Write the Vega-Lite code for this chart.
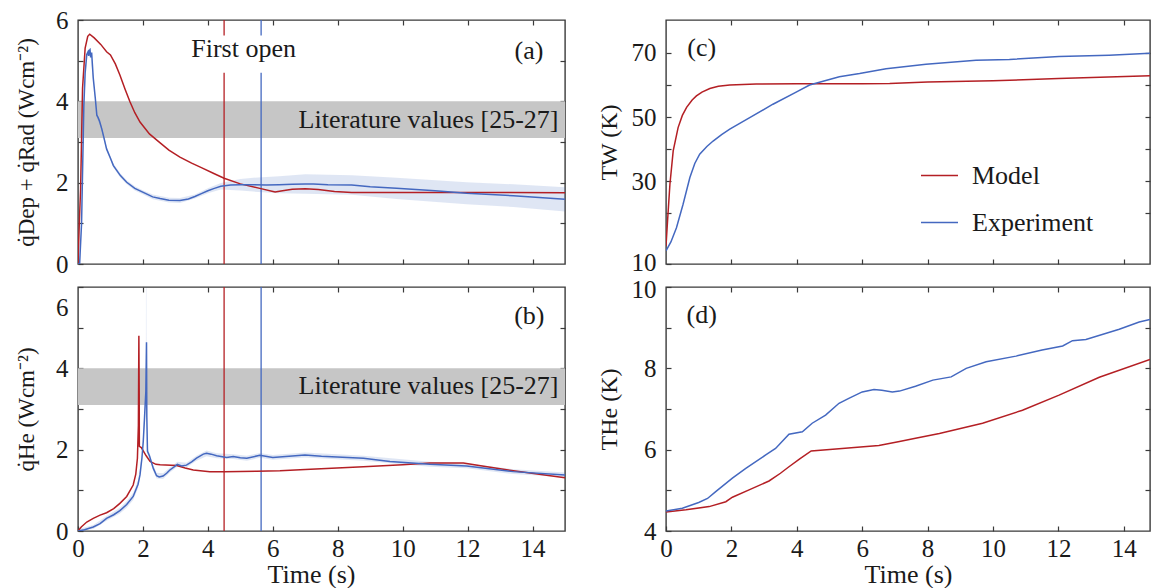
{
  "$schema": "https://vega.github.io/schema/vega-lite/v6.json",
  "padding": {"left": 14, "top": 7, "right": 0, "bottom": 0},
  "background": "white",
  "config": {
    "font": "Liberation Serif",
    "view": {"stroke": "#3a3a3a", "strokeWidth": 1.4},
    "axis": {"domain": false, "grid": false, "tickColor": "#3a3a3a", "tickSize": -5, "tickWidth": 1.2,
      "labelFont": "Liberation Serif", "labelFontSize": 25, "labelColor": "#1a1a1a", "labelPadding": 15,
      "labelFlush": false, "labelOverlap": false,
      "titleFont": "Liberation Serif", "titleFontSize": 26, "titleFontWeight": "normal", "titleColor": "#1a1a1a"},
    "axisX": {"labelPadding": 10},
    "text": {"font": "Liberation Serif", "fontSize": 26, "color": "#1a1a1a"}
  },
  "columns": 2,
  "spacing": {"row": 23, "column": 101},
  "bounds": "flush",
  "resolve": {"scale": {"color": "independent"}, "legend": {"color": "independent"}},
  "datasets": {
    "lit": [{"t0": 0, "t1": 15, "lo": 3.1, "hi": 4.0}],
    "open": [{"t": 4.5, "s": "Model"}, {"t": 5.64, "s": "Experiment"}],
    "a": [
      {"t":0,"v":0,"s":"Model"},{"t":0.04,"v":1.0,"s":"Model"},{"t":0.08,"v":1.84,"s":"Model"},{"t":0.14,"v":4.32,"s":"Model"},{"t":0.22,"v":5.31,"s":"Model"},{"t":0.3,"v":5.6,"s":"Model"},{"t":0.36,"v":5.65,"s":"Model"},{"t":0.5,"v":5.56,"s":"Model"},{"t":0.7,"v":5.4,"s":"Model"},{"t":0.88,"v":5.22,"s":"Model"},{"t":1.0,"v":5.14,"s":"Model"},{"t":1.15,"v":4.92,"s":"Model"},{"t":1.29,"v":4.65,"s":"Model"},{"t":1.45,"v":4.3,"s":"Model"},{"t":1.6,"v":3.99,"s":"Model"},{"t":1.75,"v":3.72,"s":"Model"},{"t":1.91,"v":3.49,"s":"Model"},{"t":2.2,"v":3.2,"s":"Model"},{"t":2.53,"v":2.98,"s":"Model"},{"t":2.8,"v":2.8,"s":"Model"},{"t":3.14,"v":2.63,"s":"Model"},{"t":3.5,"v":2.48,"s":"Model"},{"t":3.8,"v":2.37,"s":"Model"},{"t":4.2,"v":2.22,"s":"Model"},{"t":4.5,"v":2.11,"s":"Model"},{"t":5.0,"v":1.97,"s":"Model"},{"t":5.6,"v":1.86,"s":"Model"},{"t":6.07,"v":1.77,"s":"Model"},{"t":6.3,"v":1.8,"s":"Model"},{"t":6.6,"v":1.84,"s":"Model"},{"t":7.0,"v":1.85,"s":"Model"},{"t":7.4,"v":1.83,"s":"Model"},{"t":7.9,"v":1.78,"s":"Model"},{"t":8.43,"v":1.76,"s":"Model"},{"t":10,"v":1.76,"s":"Model"},{"t":12,"v":1.76,"s":"Model"},{"t":15,"v":1.75,"s":"Model"},
      {"t":0,"v":0,"s":"Experiment"},{"t":0.05,"v":0,"s":"Experiment"},{"t":0.11,"v":1.0,"s":"Experiment"},{"t":0.18,"v":3.9,"s":"Experiment"},{"t":0.22,"v":4.7,"s":"Experiment"},{"t":0.27,"v":5.15,"s":"Experiment"},{"t":0.31,"v":5.22,"s":"Experiment"},{"t":0.33,"v":5.12,"s":"Experiment"},{"t":0.35,"v":5.25,"s":"Experiment"},{"t":0.37,"v":5.27,"s":"Experiment"},{"t":0.39,"v":5.08,"s":"Experiment"},{"t":0.42,"v":5.2,"s":"Experiment"},{"t":0.47,"v":4.57,"s":"Experiment"},{"t":0.53,"v":4.1,"s":"Experiment"},{"t":0.58,"v":3.66,"s":"Experiment"},{"t":0.62,"v":3.6,"s":"Experiment"},{"t":0.66,"v":3.52,"s":"Experiment"},{"t":0.73,"v":3.33,"s":"Experiment"},{"t":0.8,"v":3.1,"s":"Experiment"},{"t":0.88,"v":2.83,"s":"Experiment"},{"t":1.0,"v":2.6,"s":"Experiment"},{"t":1.09,"v":2.42,"s":"Experiment"},{"t":1.3,"v":2.18,"s":"Experiment"},{"t":1.5,"v":2.01,"s":"Experiment"},{"t":1.75,"v":1.86,"s":"Experiment"},{"t":2.01,"v":1.76,"s":"Experiment"},{"t":2.3,"v":1.65,"s":"Experiment"},{"t":2.53,"v":1.61,"s":"Experiment"},{"t":2.8,"v":1.57,"s":"Experiment"},{"t":3.14,"v":1.56,"s":"Experiment"},{"t":3.4,"v":1.6,"s":"Experiment"},{"t":3.6,"v":1.66,"s":"Experiment"},{"t":3.8,"v":1.73,"s":"Experiment"},{"t":4.0,"v":1.8,"s":"Experiment"},{"t":4.2,"v":1.86,"s":"Experiment"},{"t":4.4,"v":1.91,"s":"Experiment"},{"t":4.7,"v":1.94,"s":"Experiment"},{"t":5.0,"v":1.95,"s":"Experiment"},{"t":5.4,"v":1.95,"s":"Experiment"},{"t":5.8,"v":1.94,"s":"Experiment"},{"t":6.2,"v":1.95,"s":"Experiment"},{"t":6.6,"v":1.96,"s":"Experiment"},{"t":7.0,"v":1.97,"s":"Experiment"},{"t":7.25,"v":1.97,"s":"Experiment"},{"t":7.7,"v":1.95,"s":"Experiment"},{"t":8.43,"v":1.94,"s":"Experiment"},{"t":9.0,"v":1.9,"s":"Experiment"},{"t":9.81,"v":1.86,"s":"Experiment"},{"t":11,"v":1.8,"s":"Experiment"},{"t":11.97,"v":1.74,"s":"Experiment"},{"t":13.41,"v":1.68,"s":"Experiment"},{"t":15,"v":1.59,"s":"Experiment"}
    ],
    "aband": [
      {"t":0.05,"lo":0,"hi":0.05},{"t":0.11,"lo":0.95,"hi":1.05},{"t":0.18,"lo":3.85,"hi":3.95},{"t":0.27,"lo":5.1,"hi":5.2},{"t":0.37,"lo":5.22,"hi":5.32},{"t":0.47,"lo":4.52,"hi":4.62},{"t":0.58,"lo":3.61,"hi":3.71},{"t":0.73,"lo":3.28,"hi":3.38},{"t":0.88,"lo":2.78,"hi":2.88},{"t":1.09,"lo":2.37,"hi":2.47},{"t":1.3,"lo":2.13,"hi":2.23},{"t":1.5,"lo":1.96,"hi":2.06},{"t":1.75,"lo":1.81,"hi":1.91},{"t":2.01,"lo":1.71,"hi":1.81},{"t":2.3,"lo":1.59,"hi":1.71},{"t":2.8,"lo":1.51,"hi":1.63},{"t":3.14,"lo":1.5,"hi":1.62},{"t":3.6,"lo":1.61,"hi":1.71},{"t":4.0,"lo":1.74,"hi":1.86},{"t":4.4,"lo":1.83,"hi":1.99},{"t":5.0,"lo":1.81,"hi":2.09},{"t":5.4,"lo":1.78,"hi":2.12},{"t":6.2,"lo":1.74,"hi":2.16},{"t":7.0,"lo":1.73,"hi":2.21},{"t":8.43,"lo":1.7,"hi":2.18},{"t":9.81,"lo":1.6,"hi":2.12},{"t":11.97,"lo":1.47,"hi":2.01},{"t":13.41,"lo":1.4,"hi":1.96},{"t":15,"lo":1.29,"hi":1.89}
    ],
    "b": [
      {"t":0,"v":0,"s":"Model"},{"t":0.1,"v":0.1,"s":"Model"},{"t":0.27,"v":0.22,"s":"Model"},{"t":0.47,"v":0.31,"s":"Model"},{"t":0.68,"v":0.39,"s":"Model"},{"t":0.88,"v":0.45,"s":"Model"},{"t":1.1,"v":0.55,"s":"Model"},{"t":1.29,"v":0.68,"s":"Model"},{"t":1.5,"v":0.85,"s":"Model"},{"t":1.7,"v":1.13,"s":"Model"},{"t":1.78,"v":1.4,"s":"Model"},{"t":1.83,"v":1.79,"s":"Model"},{"t":1.86,"v":2.6,"s":"Model"},{"t":1.875,"v":4.8,"s":"Model"},{"t":1.885,"v":3.4,"s":"Model"},{"t":1.89,"v":2.08,"s":"Model"},{"t":1.95,"v":2.05,"s":"Model"},{"t":2.1,"v":1.85,"s":"Model"},{"t":2.22,"v":1.71,"s":"Model"},{"t":2.4,"v":1.64,"s":"Model"},{"t":2.53,"v":1.63,"s":"Model"},{"t":3.04,"v":1.61,"s":"Model"},{"t":3.3,"v":1.55,"s":"Model"},{"t":3.55,"v":1.5,"s":"Model"},{"t":4.06,"v":1.46,"s":"Model"},{"t":4.5,"v":1.46,"s":"Model"},{"t":5.5,"v":1.47,"s":"Model"},{"t":6.22,"v":1.48,"s":"Model"},{"t":7,"v":1.51,"s":"Model"},{"t":8.79,"v":1.58,"s":"Model"},{"t":10,"v":1.63,"s":"Model"},{"t":10.84,"v":1.67,"s":"Model"},{"t":11.87,"v":1.67,"s":"Model"},{"t":12.5,"v":1.59,"s":"Model"},{"t":13.41,"v":1.48,"s":"Model"},{"t":15,"v":1.31,"s":"Model"},
      {"t":0,"v":0,"s":"Experiment"},{"t":0.2,"v":0.03,"s":"Experiment"},{"t":0.47,"v":0.1,"s":"Experiment"},{"t":0.68,"v":0.18,"s":"Experiment"},{"t":0.88,"v":0.31,"s":"Experiment"},{"t":1.1,"v":0.4,"s":"Experiment"},{"t":1.29,"v":0.5,"s":"Experiment"},{"t":1.5,"v":0.65,"s":"Experiment"},{"t":1.7,"v":0.85,"s":"Experiment"},{"t":1.85,"v":1.15,"s":"Experiment"},{"t":1.91,"v":1.38,"s":"Experiment"},{"t":1.97,"v":1.8,"s":"Experiment"},{"t":2.01,"v":2.2,"s":"Experiment"},{"t":2.05,"v":2.8,"s":"Experiment"},{"t":2.09,"v":3.44,"s":"Experiment"},{"t":2.11,"v":4.64,"s":"Experiment"},{"t":2.12,"v":2.8,"s":"Experiment"},{"t":2.14,"v":1.96,"s":"Experiment"},{"t":2.2,"v":1.85,"s":"Experiment"},{"t":2.32,"v":1.54,"s":"Experiment"},{"t":2.42,"v":1.36,"s":"Experiment"},{"t":2.5,"v":1.33,"s":"Experiment"},{"t":2.62,"v":1.35,"s":"Experiment"},{"t":2.73,"v":1.42,"s":"Experiment"},{"t":2.83,"v":1.5,"s":"Experiment"},{"t":2.95,"v":1.57,"s":"Experiment"},{"t":3.06,"v":1.64,"s":"Experiment"},{"t":3.19,"v":1.6,"s":"Experiment"},{"t":3.34,"v":1.62,"s":"Experiment"},{"t":3.5,"v":1.7,"s":"Experiment"},{"t":3.65,"v":1.79,"s":"Experiment"},{"t":3.86,"v":1.89,"s":"Experiment"},{"t":3.96,"v":1.91,"s":"Experiment"},{"t":4.1,"v":1.89,"s":"Experiment"},{"t":4.27,"v":1.85,"s":"Experiment"},{"t":4.58,"v":1.81,"s":"Experiment"},{"t":4.78,"v":1.83,"s":"Experiment"},{"t":5.0,"v":1.8,"s":"Experiment"},{"t":5.2,"v":1.79,"s":"Experiment"},{"t":5.6,"v":1.86,"s":"Experiment"},{"t":6.0,"v":1.81,"s":"Experiment"},{"t":6.5,"v":1.84,"s":"Experiment"},{"t":6.99,"v":1.87,"s":"Experiment"},{"t":7.5,"v":1.84,"s":"Experiment"},{"t":8.79,"v":1.79,"s":"Experiment"},{"t":9.61,"v":1.71,"s":"Experiment"},{"t":10.84,"v":1.64,"s":"Experiment"},{"t":11.97,"v":1.6,"s":"Experiment"},{"t":13.41,"v":1.46,"s":"Experiment"},{"t":15,"v":1.38,"s":"Experiment"}
    ],
    "bband": [
      {"t":0,"lo":0,"hi":0.04},{"t":0.47,"lo":0.05,"hi":0.15},{"t":0.88,"lo":0.25,"hi":0.37},{"t":1.29,"lo":0.43,"hi":0.57},{"t":1.5,"lo":0.57,"hi":0.73},{"t":1.7,"lo":0.76,"hi":0.94},{"t":1.85,"lo":1.05,"hi":1.25},{"t":1.97,"lo":1.7,"hi":1.9},{"t":2.05,"lo":2.65,"hi":2.95},{"t":2.09,"lo":3.3,"hi":3.6},{"t":2.095,"lo":3.9,"hi":7},{"t":2.105,"lo":4.3,"hi":7},{"t":2.11,"lo":4.5,"hi":4.8},{"t":2.12,"lo":2.65,"hi":2.95},{"t":2.14,"lo":1.88,"hi":2.04},{"t":2.2,"lo":1.78,"hi":1.92},{"t":2.32,"lo":1.47,"hi":1.61},{"t":2.42,"lo":1.29,"hi":1.43},{"t":2.62,"lo":1.28,"hi":1.42},{"t":2.83,"lo":1.44,"hi":1.56},{"t":3.06,"lo":1.58,"hi":1.7},{"t":3.34,"lo":1.56,"hi":1.68},{"t":3.65,"lo":1.73,"hi":1.85},{"t":3.96,"lo":1.84,"hi":1.98},{"t":4.27,"lo":1.79,"hi":1.91},{"t":4.78,"lo":1.77,"hi":1.89},{"t":5.2,"lo":1.73,"hi":1.85},{"t":5.6,"lo":1.8,"hi":1.92},{"t":6.0,"lo":1.75,"hi":1.87},{"t":6.99,"lo":1.81,"hi":1.93},{"t":8.79,"lo":1.73,"hi":1.85},{"t":10.84,"lo":1.58,"hi":1.7},{"t":11.97,"lo":1.54,"hi":1.66},{"t":13.41,"lo":1.4,"hi":1.52},{"t":15,"lo":1.32,"hi":1.44}
    ],
    "c": [
      {"t":0,"v":9.7,"s":"Model"},{"t":0.05,"v":18,"s":"Model"},{"t":0.12,"v":29,"s":"Model"},{"t":0.22,"v":39.4,"s":"Model"},{"t":0.37,"v":46.7,"s":"Model"},{"t":0.5,"v":50.5,"s":"Model"},{"t":0.63,"v":53,"s":"Model"},{"t":0.8,"v":55.3,"s":"Model"},{"t":0.93,"v":56.6,"s":"Model"},{"t":1.1,"v":57.8,"s":"Model"},{"t":1.34,"v":58.9,"s":"Model"},{"t":1.6,"v":59.6,"s":"Model"},{"t":1.95,"v":60.0,"s":"Model"},{"t":2.76,"v":60.3,"s":"Model"},{"t":4,"v":60.4,"s":"Model"},{"t":6,"v":60.4,"s":"Model"},{"t":6.84,"v":60.5,"s":"Model"},{"t":8,"v":60.9,"s":"Model"},{"t":10,"v":61.3,"s":"Model"},{"t":12,"v":62.0,"s":"Model"},{"t":14.8,"v":62.9,"s":"Model"},
      {"t":0,"v":8.2,"s":"Experiment"},{"t":0.15,"v":11,"s":"Experiment"},{"t":0.32,"v":15.4,"s":"Experiment"},{"t":0.52,"v":22.7,"s":"Experiment"},{"t":0.73,"v":31.1,"s":"Experiment"},{"t":0.88,"v":35.5,"s":"Experiment"},{"t":1.03,"v":38.4,"s":"Experiment"},{"t":1.25,"v":40.8,"s":"Experiment"},{"t":1.44,"v":42.5,"s":"Experiment"},{"t":1.7,"v":44.5,"s":"Experiment"},{"t":1.95,"v":46.2,"s":"Experiment"},{"t":2.56,"v":49.8,"s":"Experiment"},{"t":3.27,"v":54,"s":"Experiment"},{"t":3.98,"v":57.8,"s":"Experiment"},{"t":4.39,"v":60.0,"s":"Experiment"},{"t":5.3,"v":62.6,"s":"Experiment"},{"t":5.92,"v":63.6,"s":"Experiment"},{"t":6.73,"v":65.1,"s":"Experiment"},{"t":7.95,"v":66.5,"s":"Experiment"},{"t":9.48,"v":67.7,"s":"Experiment"},{"t":10.5,"v":68.0,"s":"Experiment"},{"t":12.02,"v":68.9,"s":"Experiment"},{"t":13.55,"v":69.3,"s":"Experiment"},{"t":14.8,"v":69.9,"s":"Experiment"}
    ],
    "d": [
      {"t":0,"v":4.47,"s":"Model"},{"t":0.61,"v":4.52,"s":"Model"},{"t":1.32,"v":4.6,"s":"Model"},{"t":1.83,"v":4.72,"s":"Model"},{"t":2.03,"v":4.83,"s":"Model"},{"t":2.54,"v":5.01,"s":"Model"},{"t":3.15,"v":5.23,"s":"Model"},{"t":3.5,"v":5.42,"s":"Model"},{"t":3.76,"v":5.58,"s":"Model"},{"t":4.1,"v":5.78,"s":"Model"},{"t":4.44,"v":5.97,"s":"Model"},{"t":5.29,"v":6.02,"s":"Model"},{"t":6.51,"v":6.1,"s":"Model"},{"t":7.14,"v":6.2,"s":"Model"},{"t":7.63,"v":6.28,"s":"Model"},{"t":8.36,"v":6.4,"s":"Model"},{"t":9.68,"v":6.65,"s":"Model"},{"t":10.9,"v":6.97,"s":"Model"},{"t":12.02,"v":7.34,"s":"Model"},{"t":13.25,"v":7.78,"s":"Model"},{"t":14.8,"v":8.22,"s":"Model"},
      {"t":0,"v":4.49,"s":"Experiment"},{"t":0.5,"v":4.56,"s":"Experiment"},{"t":1.0,"v":4.7,"s":"Experiment"},{"t":1.27,"v":4.8,"s":"Experiment"},{"t":1.52,"v":4.97,"s":"Experiment"},{"t":2.03,"v":5.3,"s":"Experiment"},{"t":2.44,"v":5.54,"s":"Experiment"},{"t":3.05,"v":5.87,"s":"Experiment"},{"t":3.35,"v":6.03,"s":"Experiment"},{"t":3.76,"v":6.38,"s":"Experiment"},{"t":4.17,"v":6.44,"s":"Experiment"},{"t":4.47,"v":6.65,"s":"Experiment"},{"t":4.88,"v":6.85,"s":"Experiment"},{"t":5.29,"v":7.14,"s":"Experiment"},{"t":5.59,"v":7.26,"s":"Experiment"},{"t":6.0,"v":7.42,"s":"Experiment"},{"t":6.36,"v":7.48,"s":"Experiment"},{"t":6.6,"v":7.46,"s":"Experiment"},{"t":6.92,"v":7.42,"s":"Experiment"},{"t":7.14,"v":7.44,"s":"Experiment"},{"t":7.63,"v":7.56,"s":"Experiment"},{"t":8.16,"v":7.71,"s":"Experiment"},{"t":8.72,"v":7.79,"s":"Experiment"},{"t":9.18,"v":8.0,"s":"Experiment"},{"t":9.79,"v":8.16,"s":"Experiment"},{"t":10.7,"v":8.3,"s":"Experiment"},{"t":11.5,"v":8.45,"s":"Experiment"},{"t":12.13,"v":8.55,"s":"Experiment"},{"t":12.43,"v":8.68,"s":"Experiment"},{"t":12.84,"v":8.71,"s":"Experiment"},{"t":13.86,"v":8.96,"s":"Experiment"},{"t":14.47,"v":9.14,"s":"Experiment"},{"t":14.8,"v":9.2,"s":"Experiment"}
    ]
  },
  "concat": [
    {
      "width": 487, "height": 244,
      "layer": [
        {"data": {"name": "lit"}, "mark": {"type": "rect", "color": "#c6c6c6"},
         "encoding": {
           "x": {"field": "t0", "type": "quantitative", "scale": {"domain": [0, 15], "nice": false}, "axis": {"orient": "top", "values": [2,4,6,8,10,12,14], "labels": false, "title": null}},
           "x2": {"field": "t1"},
           "y": {"field": "lo", "type": "quantitative", "scale": {"domain": [0, 6], "nice": false}, "axis": {"orient": "right", "values": [1,2,3,4,5], "labels": false, "title": null}},
           "y2": {"field": "hi"}}},
        {"data": {"name": "aband"}, "mark": {"type": "area", "color": "#4468c0", "opacity": 0.17, "clip": true},
         "encoding": {"x": {"field": "t", "type": "quantitative", "axis": null}, "y": {"field": "lo", "type": "quantitative", "axis": null}, "y2": {"field": "hi"}}},
        {"data": {"name": "open"}, "mark": {"type": "rule", "strokeWidth": 1.3},
         "encoding": {"x": {"field": "t", "type": "quantitative", "axis": null},
           "color": {"field": "s", "type": "nominal", "scale": {"domain": ["Model", "Experiment"], "range": ["#b41f24", "#4468c0"]}, "legend": null}}},
        {"data": {"values": [{}]}, "mark": {"type": "rect", "color": "white"},
         "encoding": {"x": {"datum": 3.45, "type": "quantitative", "axis": null}, "x2": {"datum": 6.75}, "y": {"datum": 4.7, "type": "quantitative", "axis": null}, "y2": {"datum": 5.62}}},
        {"data": {"values": [{}]}, "mark": {"type": "text", "text": "First open", "align": "center", "baseline": "middle"},
         "encoding": {"x": {"datum": 5.1, "type": "quantitative", "axis": null}, "y": {"datum": 5.28, "type": "quantitative", "axis": null}}},
        {"data": {"values": [{}]}, "mark": {"type": "text", "text": "Literature values [25-27]", "align": "right", "baseline": "middle"},
         "encoding": {"x": {"datum": 14.8, "type": "quantitative", "axis": null}, "y": {"datum": 3.55, "type": "quantitative", "axis": null}}},
        {"data": {"values": [{}]}, "mark": {"type": "text", "text": "(a)", "align": "center", "baseline": "middle"},
         "encoding": {"x": {"datum": 13.89, "type": "quantitative", "axis": null}, "y": {"datum": 5.25, "type": "quantitative", "axis": null}}},
        {"data": {"name": "a"}, "mark": {"type": "line", "strokeWidth": 1.5, "clip": true},
         "encoding": {
           "x": {"field": "t", "type": "quantitative", "scale": {"domain": [0, 15], "nice": false}, "axis": {"orient": "bottom", "values": [2,4,6,8,10,12,14], "labels": false, "title": null}},
           "y": {"field": "v", "type": "quantitative", "scale": {"domain": [0, 6], "nice": false}, "axis": {"orient": "left", "values": [0,1,2,3,4,5,6], "labelExpr": "datum.value % 2 === 0 ? datum.label : ''", "title": "q̇Dep + q̇Rad (Wcm⁻²)", "titleFontSize": 23, "titleX": -40}},
           "color": {"field": "s", "type": "nominal", "scale": {"domain": ["Model", "Experiment"], "range": ["#b41f24", "#4468c0"]}, "legend": null}}}
      ]
    },
    {
      "width": 484, "height": 244,
      "layer": [
        {"data": {"values": [{}]}, "mark": {"type": "text", "text": "(c)", "align": "center", "baseline": "middle"},
         "encoding": {
           "x": {"datum": 1.09, "type": "quantitative", "scale": {"domain": [0, 14.8], "nice": false}, "axis": {"orient": "top", "values": [2,4,6,8,10,12,14], "labels": false, "title": null}},
           "y": {"datum": 71.7, "type": "quantitative", "scale": {"domain": [4.1, 80.3], "nice": false}, "axis": {"orient": "right", "values": [20,30,40,50,60,70], "labels": false, "title": null}}}},
        {"data": {"name": "c"}, "mark": {"type": "line", "strokeWidth": 1.5, "clip": true},
         "encoding": {
           "x": {"field": "t", "type": "quantitative", "scale": {"domain": [0, 14.8], "nice": false}, "axis": {"orient": "bottom", "values": [2,4,6,8,10,12,14], "labels": false, "title": null}},
           "y": {"field": "v", "type": "quantitative", "scale": {"domain": [4.1, 80.3], "nice": false}, "axis": {"orient": "left", "values": [4.1,20,30,40,50,60,70], "labelExpr": "datum.value < 10 ? '10' : (datum.value % 20 === 10 ? datum.label : '')", "labelOffset": {"condition": {"test": "datum.value < 10", "value": -2}, "value": 0}, "title": "TW (K)", "titleFontSize": 24, "titleX": -45}},
           "color": {"field": "s", "type": "nominal", "scale": {"domain": ["Model", "Experiment"], "range": ["#b41f24", "#4468c0"]},
             "legend": {"orient": "none", "legendX": 254, "legendY": 136, "title": null, "symbolType": "stroke", "symbolSize": 1369, "symbolStrokeWidth": 1.5, "labelFont": "Liberation Serif", "labelFontSize": 26, "labelColor": "#1a1a1a", "labelOffset": 13, "rowPadding": 14}}}}
      ]
    },
    {
      "width": 487, "height": 244,
      "layer": [
        {"data": {"name": "lit"}, "mark": {"type": "rect", "color": "#c6c6c6"},
         "encoding": {
           "x": {"field": "t0", "type": "quantitative", "scale": {"domain": [0, 15], "nice": false}, "axis": {"orient": "top", "values": [2,4,6,8,10,12,14], "labels": false, "title": null}},
           "x2": {"field": "t1"},
           "y": {"field": "lo", "type": "quantitative", "scale": {"domain": [0, 6], "nice": false}, "axis": {"orient": "right", "values": [1,2,3,4,5], "labels": false, "title": null}},
           "y2": {"field": "hi"}}},
        {"data": {"name": "bband"}, "mark": {"type": "area", "color": "#4468c0", "opacity": 0.17, "clip": true},
         "encoding": {"x": {"field": "t", "type": "quantitative", "axis": null}, "y": {"field": "lo", "type": "quantitative", "axis": null}, "y2": {"field": "hi"}}},
        {"data": {"name": "open"}, "mark": {"type": "rule", "strokeWidth": 1.3},
         "encoding": {"x": {"field": "t", "type": "quantitative", "axis": null},
           "color": {"field": "s", "type": "nominal", "scale": {"domain": ["Model", "Experiment"], "range": ["#b41f24", "#4468c0"]}, "legend": null}}},
        {"data": {"values": [{}]}, "mark": {"type": "text", "text": "Literature values [25-27]", "align": "right", "baseline": "middle"},
         "encoding": {"x": {"datum": 14.8, "type": "quantitative", "axis": null}, "y": {"datum": 3.56, "type": "quantitative", "axis": null}}},
        {"data": {"values": [{}]}, "mark": {"type": "text", "text": "(b)", "align": "center", "baseline": "middle"},
         "encoding": {"x": {"datum": 13.9, "type": "quantitative", "axis": null}, "y": {"datum": 5.28, "type": "quantitative", "axis": null}}},
        {"data": {"name": "b"}, "mark": {"type": "line", "strokeWidth": 1.5, "clip": true},
         "encoding": {
           "x": {"field": "t", "type": "quantitative", "scale": {"domain": [0, 15], "nice": false}, "axis": {"orient": "bottom", "values": [0,2,4,6,8,10,12,14], "title": "Time (s)", "titleX": 233, "titleY": 30, "titleBaseline": "top"}},
           "y": {"field": "v", "type": "quantitative", "scale": {"domain": [0, 6], "nice": false}, "axis": {"orient": "left", "values": [0,1,2,3,4,5,6], "labelExpr": "datum.value % 2 === 0 ? datum.label : ''", "labelOffset": {"condition": {"test": "datum.value === 6", "value": 20}, "value": 0}, "title": "q̇He (Wcm⁻²)", "titleFontSize": 23, "titleX": -40}},
           "color": {"field": "s", "type": "nominal", "scale": {"domain": ["Model", "Experiment"], "range": ["#b41f24", "#4468c0"]}, "legend": null}}}
      ]
    },
    {
      "width": 484, "height": 244,
      "layer": [
        {"data": {"values": [{}]}, "mark": {"type": "text", "text": "(d)", "align": "center", "baseline": "middle"},
         "encoding": {
           "x": {"datum": 1.09, "type": "quantitative", "scale": {"domain": [0, 14.8], "nice": false}, "axis": {"orient": "top", "values": [2,4,6,8,10,12,14], "labels": false, "title": null}},
           "y": {"datum": 9.3, "type": "quantitative", "scale": {"domain": [4, 10], "nice": false}, "axis": {"orient": "right", "values": [5,6,7,8,9], "labels": false, "title": null}}}},
        {"data": {"name": "d"}, "mark": {"type": "line", "strokeWidth": 1.5, "clip": true},
         "encoding": {
           "x": {"field": "t", "type": "quantitative", "scale": {"domain": [0, 14.8], "nice": false}, "axis": {"orient": "bottom", "values": [0,2,4,6,8,10,12,14], "title": "Time (s)", "titleY": 30, "titleBaseline": "top"}},
           "y": {"field": "v", "type": "quantitative", "scale": {"domain": [4, 10], "nice": false}, "axis": {"orient": "left", "values": [4,5,6,7,8,9,10], "labelExpr": "datum.value % 2 === 0 ? datum.label : ''", "labelOffset": {"condition": {"test": "datum.value === 10", "value": 2}, "value": 0}, "title": "THe (K)", "titleFontSize": 24, "titleX": -45}},
           "color": {"field": "s", "type": "nominal", "scale": {"domain": ["Model", "Experiment"], "range": ["#b41f24", "#4468c0"]}, "legend": null}}}
      ]
    }
  ]
}
